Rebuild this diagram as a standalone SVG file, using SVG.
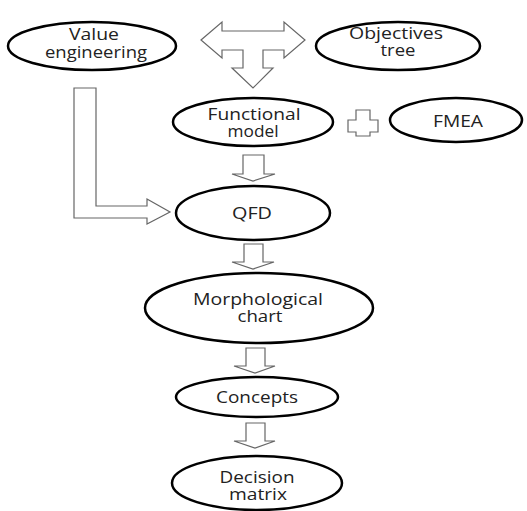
<svg xmlns="http://www.w3.org/2000/svg" width="527" height="511" viewBox="0 0 527 511">
<style>
.node ellipse{fill:#fff;stroke:#000;stroke-width:2.5}
.node text{font-family:"Open Sans","Liberation Sans",sans-serif;font-size:17px;fill:#222;text-anchor:middle}
.arr{fill:#fff;stroke:#666;stroke-width:1.2;stroke-linejoin:miter}
</style>
<rect width="527" height="511" fill="#fff"/>
<g id="connectors">
<path class="arr" d="M201,40 L222,22 L222,31 L284,31 L284,22 L305,40 L284,58 L284,50 L263,50 L263,68 L273,68 L253,88 L232,68 L243,68 L243,50 L222,50 L222,58 Z"/>
<path class="arr" d="M348,120 L356,120 L356,110 L370,110 L370,120 L378,120 L378,132 L370,132 L370,136 L356,136 L356,132 L348,132 Z"/>
<path class="arr" d="M74,88 L96,88 L96,206 L147,206 L147,199 L170,212 L147,224 L147,218 L74,218 Z"/>
<path class="arr" d="M243,155 L264,155 L264,174 L275,174 L253,181 L232,174 L243,174 Z"/>
<path class="arr" d="M244,244 L263,244 L263,262 L274,262 L253,269 L232,262 L244,262 Z"/>
<path class="arr" d="M246,348 L265,348 L265,366 L275,366 L255,373 L234,366 L246,366 Z"/>
<path class="arr" d="M246,423 L265,423 L265,441 L275,441 L255,448 L234,441 L246,441 Z"/>
</g>
<g id="value-engineering" class="node">
<ellipse cx="92" cy="46" rx="84" ry="24"/>
<text x="94" y="40" textLength="50" lengthAdjust="spacingAndGlyphs">Value</text>
<text x="96" y="58" textLength="102" lengthAdjust="spacingAndGlyphs">engineering</text>
</g>
<g id="objectives-tree" class="node">
<ellipse cx="398" cy="46" rx="82" ry="24"/>
<text x="396" y="39" textLength="94" lengthAdjust="spacingAndGlyphs">Objectives</text>
<text x="398" y="56" textLength="35" lengthAdjust="spacingAndGlyphs">tree</text>
</g>
<g id="functional-model" class="node">
<ellipse cx="253" cy="122" rx="80" ry="24"/>
<text x="254" y="120" textLength="93" lengthAdjust="spacingAndGlyphs">Functional</text>
<text x="253" y="137" textLength="51" lengthAdjust="spacingAndGlyphs">model</text>
</g>
<g id="fmea" class="node">
<ellipse cx="456" cy="120" rx="66" ry="22"/>
<text x="458" y="127" textLength="50" lengthAdjust="spacingAndGlyphs">FMEA</text>
</g>
<g id="qfd" class="node">
<ellipse cx="253" cy="213" rx="77" ry="27"/>
<text x="252" y="219" textLength="40" lengthAdjust="spacingAndGlyphs">QFD</text>
</g>
<g id="morphological-chart" class="node">
<ellipse cx="259" cy="308" rx="114" ry="35"/>
<text x="258" y="305" textLength="130" lengthAdjust="spacingAndGlyphs">Morphological</text>
<text x="260" y="322" textLength="45" lengthAdjust="spacingAndGlyphs">chart</text>
</g>
<g id="concepts" class="node">
<ellipse cx="257" cy="397" rx="81" ry="20"/>
<text x="257" y="403" textLength="82" lengthAdjust="spacingAndGlyphs">Concepts</text>
</g>
<g id="decision-matrix" class="node">
<ellipse cx="257" cy="483" rx="85" ry="27"/>
<text x="257" y="483" textLength="75" lengthAdjust="spacingAndGlyphs">Decision</text>
<text x="258" y="500" textLength="58" lengthAdjust="spacingAndGlyphs">matrix</text>
</g>
</svg>
